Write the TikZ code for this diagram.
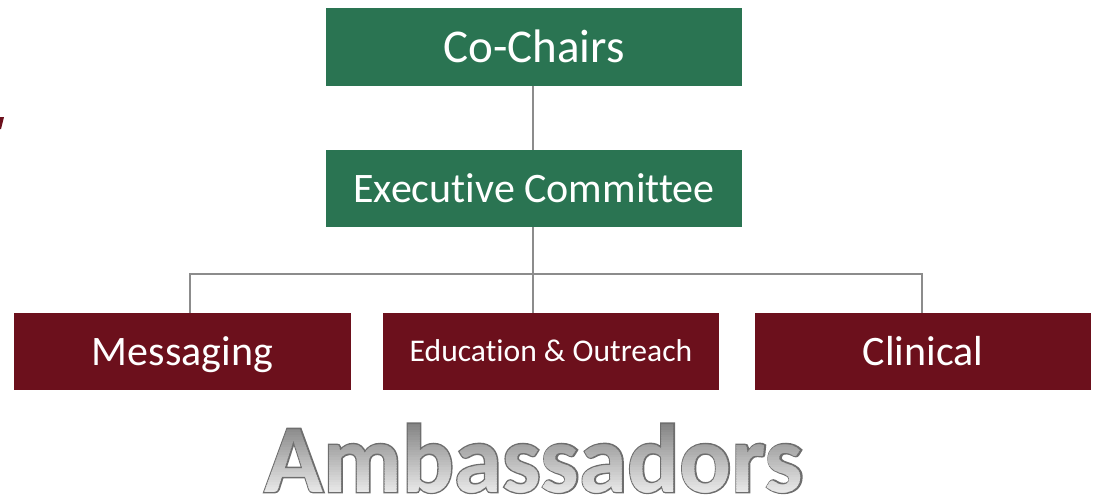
\documentclass[tikz,border=0pt]{standalone}
\usepackage{fontspec}
\setmainfont{Carlito}[Ligatures=NoCommon]
\newfontface\ambout{Carlito Bold}[FakeBold=3]
\newfontface\ambfill{Carlito Bold}
\usetikzlibrary{calc}
\definecolor{boxgreen}{RGB}{42,116,82}
\definecolor{boxred}{RGB}{108,16,28}
\definecolor{connc}{RGB}{140,140,140}
\definecolor{outl}{RGB}{110,110,110}
\tikzset{
  gbox/.style={fill=boxgreen,text=white,minimum width=416pt,minimum height=77pt,inner sep=0,text depth=0pt},
  rbox/.style={fill=boxred,text=white,minimum width=337pt,minimum height=77pt,inner sep=0,text depth=0pt},
  conn/.style={draw=connc,line width=2pt},
  ambtext/.style={inner sep=0,anchor=base},
}
\begin{document}
\begin{tikzpicture}[x=1pt,y=-1pt]
\useasboundingbox (0,0) rectangle (1094,495);
% fragment at left edge
\fill[boxred] (0,117) -- (4,117) -- (1,129) -- (0,129) -- cycle;
\node[gbox,text height=30.3pt,font=\fontsize{47}{50}\selectfont] (co) at (534,47) {Co-Chairs};
\node[gbox,text height=27pt,font=\fontsize{42}{45}\selectfont] (exec) at (534,188.5) {Executive Committee};
\node[rbox,text height=27pt,font=\fontsize{42}{45}\selectfont] (msg) at (182.5,351.5) {Messaging};
\node[rbox,minimum width=336pt,text height=20.4pt,font=\fontsize{31.6}{34}\selectfont] (edu) at (551,351.5) {Education \& Outreach};
\node[rbox,minimum width=336pt,text height=27pt,font=\fontsize{42}{45}\selectfont] (cli) at (923,351.5) {Clinical};
\coordinate (hub) at (533,274);
\draw[conn] ([xshift=-1]co.south) -- ([xshift=-1]exec.north);
\draw[conn] ([xshift=-1]exec.south) -- (exec.south -| hub) -- (hub |- edu.north);
\draw[conn] ([xshift=7.5]msg.north) |- (hub) -| ([xshift=-1]cli.north);
% Ambassadors: outline layer, then gradient fill in strips
\node[ambtext,text=outl] (amb) at (534,492) {\fontsize{97}{100}\ambout Ambassadors};
\foreach \i in {0,...,31}{
  \pgfmathsetmacro{\yy}{420+2.5*\i}
  \pgfmathsetmacro{\ss}{max(6,50-42*\i/29)}
  \begin{scope}
    \clip (0,\yy) rectangle (1094,\yy+2.6);
    \node[ambtext,text=black!\ss] at (534,492) {\fontsize{97}{100}\ambfill Ambassadors};
  \end{scope}
}
\end{tikzpicture}
\end{document}
